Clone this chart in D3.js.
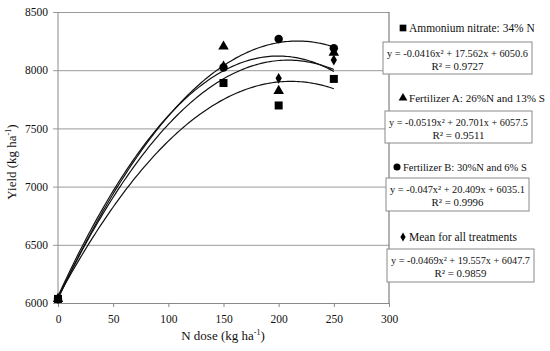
<!DOCTYPE html>
<html>
<head>
<meta charset="UTF-8" />
<script src="https://cdn.jsdelivr.net/npm/d3@7"></script>
<style>
  body { margin: 0; background: #fff; }
</style>
</head>
<body>
<svg id="chart"></svg>
<script>
// data
const doses = [0, 150, 200, 250];
const ammonium = [6035, 7890, 7697, 7925];
const fertA = [6035, 8203, 7822, 8150];
const fertB = [6035, 8023, 8268, 8189];
const meanAll = [6035, 8037, 7930, 8088];

// fitted trend lines: [a, b, c] for y = a x^2 + b x + c
const fitAmmonium = [-0.0416, 17.562, 6050.6];
const fitA = [-0.0519, 20.701, 6057.5];
const fitB = [-0.047, 20.409, 6035.1];
const fitMean = [-0.0469, 19.557, 6047.7];

const seriesNames = ["Ammonium nitrate: 34% N", "Fertilizer A: 26%N and 13% S", "Fertilizer B: 30%N and 6% S", "Mean for all treatments"];
const eqLabels = [
  ["-0.0416", "17.562", "6050.6", "0.9727"],
  ["-0.0519", "20.701", "6057.5", "0.9511"],
  ["-0.047", "20.409", "6035.1", "0.9996"],
  ["-0.0469", "19.557", "6047.7", "0.9859"]
];
const xTicks = [0, 50, 100, 150, 200, 250, 300];
const yTicks = [6000, 6500, 7000, 7500, 8000, 8500];

const width = 550, height = 351;
const FONT = "Liberation Serif";
const svg = d3.select("#chart").attr("width", width).attr("height", height)
  .attr("font-family", FONT);

// shrink/grow a text so it takes the width the reference text takes
function fitWidth(sel, target) {
  const fs = +sel.attr("font-size");
  const w = sel.node().getComputedTextLength();
  if (w > 0) sel.attr("font-size", (fs * target / w).toFixed(2));
}

const x = d3.scaleLinear().domain([0, 300]).range([58, 389]);
const y = d3.scaleLinear().domain([6000, 8500]).range([303, 12]);

// gridlines + y labels
svg.append("g")
  .attr("transform", "translate(58,0)")
  .call(d3.axisLeft(y).tickValues(yTicks).tickSize(-(389 - 58)).tickPadding(10).tickFormat(d3.format("d")))
  .attr("font-family", FONT)
  .call(g => g.select(".domain").remove())
  .call(g => g.selectAll(".tick line").attr("stroke", "#9a9a9a").attr("x1", -5))
  .call(g => g.selectAll(".tick text").attr("font-size", 11.5).attr("fill", "#111"));

// x axis
svg.append("g")
  .attr("transform", "translate(0,303)")
  .call(d3.axisBottom(x).tickValues(xTicks).tickSize(4).tickPadding(8))
  .attr("font-family", FONT)
  .call(g => g.select(".domain").attr("stroke", "#8a8a8a"))
  .call(g => g.selectAll(".tick line").attr("stroke", "#8a8a8a"))
  .call(g => g.selectAll(".tick text").attr("font-size", 11.5).attr("fill", "#111"));

// left and right frame lines
svg.append("line").attr("x1", x(0)).attr("x2", x(0)).attr("y1", y(8500)).attr("y2", y(6000))
  .attr("stroke", "#8a8a8a");
svg.append("line").attr("x1", x(300)).attr("x2", x(300)).attr("y1", y(8500)).attr("y2", y(6000))
  .attr("stroke", "#666");

// trend curves
const fits = [fitAmmonium, fitA, fitB, fitMean];
const line = d3.line().x(d => x(d[0])).y(d => y(d[1]));
fits.forEach(f => {
  const pts = d3.range(0, 250.5, 2).map(v => [v, f[0] * v * v + f[1] * v + f[2]]);
  svg.append("path").attr("d", line(pts)).attr("fill", "none")
    .attr("stroke", "#111").attr("stroke-width", 1.2);
});

// markers
const symbols = [d3.symbolSquare, d3.symbolTriangle, d3.symbolCircle, d3.symbolDiamond];
const sizes = [64, 48, 56, 34];
const allSeries = [ammonium, fertA, fertB, meanAll];
const drawOrder = [1, 2, 3, 0];
drawOrder.forEach(i => {
  svg.append("g").selectAll("path")
    .data(doses.map((d, j) => [d, allSeries[i][j]]))
    .join("path")
    .attr("transform", d => `translate(${x(d[0])},${y(d[1])})`)
    .attr("d", d3.symbol().type(symbols[i]).size(sizes[i]))
    .attr("fill", "#000");
});

// legend
const legendY = [28, 98, 167, 237];
const legendX = [403, 403, 397, 403];
const nameWidths = [126, 136, 124, 108];
const boxes = [
  { x: 383, y: 42, w: 149, h: 32 },
  { x: 385, y: 111, w: 147, h: 32 },
  { x: 386, y: 178, w: 143, h: 33 },
  { x: 387, y: 249, w: 147, h: 33 }
];
seriesNames.forEach((name, i) => {
  svg.append("path")
    .attr("transform", `translate(${legendX[i]},${legendY[i]})`)
    .attr("d", d3.symbol().type(symbols[i]).size(sizes[i] * 0.7))
    .attr("fill", "#000");
  svg.append("text").attr("x", legendX[i] + 6).attr("y", legendY[i] + 4)
    .attr("font-family", FONT).attr("font-size", 12).attr("fill", "#111").text(name)
    .call(fitWidth, nameWidths[i]);

  const b = boxes[i];
  svg.append("rect").attr("x", b.x).attr("y", b.y).attr("width", b.w).attr("height", b.h)
    .attr("fill", "#fff").attr("stroke", "#8a8a8a");
  const e = eqLabels[i];
  svg.append("text").attr("x", b.x + b.w / 2).attr("y", b.y + 15).attr("text-anchor", "middle")
    .attr("font-family", FONT).attr("font-size", 12).attr("fill", "#111")
    .text(`y = ${e[0]}x\u00b2 + ${e[1]}x + ${e[2]}`)
    .call(fitWidth, b.w - 8);
  svg.append("text").attr("x", b.x + b.w / 2).attr("y", b.y + 28).attr("text-anchor", "middle")
    .attr("font-family", FONT).attr("font-size", 12).attr("fill", "#111")
    .text(`R\u00b2 = ${e[3]}`)
    .call(fitWidth, 52);
});

// axis titles
const yt = svg.append("text").attr("transform", "translate(16,162) rotate(-90)")
  .attr("text-anchor", "middle").attr("font-family", FONT).attr("font-size", 13).attr("fill", "#111");
yt.append("tspan").text("Yield (kg ha");
yt.append("tspan").attr("font-size", 8).attr("dy", -5).text("-1");
yt.append("tspan").attr("dy", 5).text(")");

const xt = svg.append("text").attr("x", 223).attr("y", 340)
  .attr("text-anchor", "middle").attr("font-family", FONT).attr("font-size", 13).attr("fill", "#111");
xt.append("tspan").text("N dose (kg ha");
xt.append("tspan").attr("font-size", 8).attr("dy", -5).text("-1");
xt.append("tspan").attr("dy", 5).text(")");
</script>
</body>
</html>
